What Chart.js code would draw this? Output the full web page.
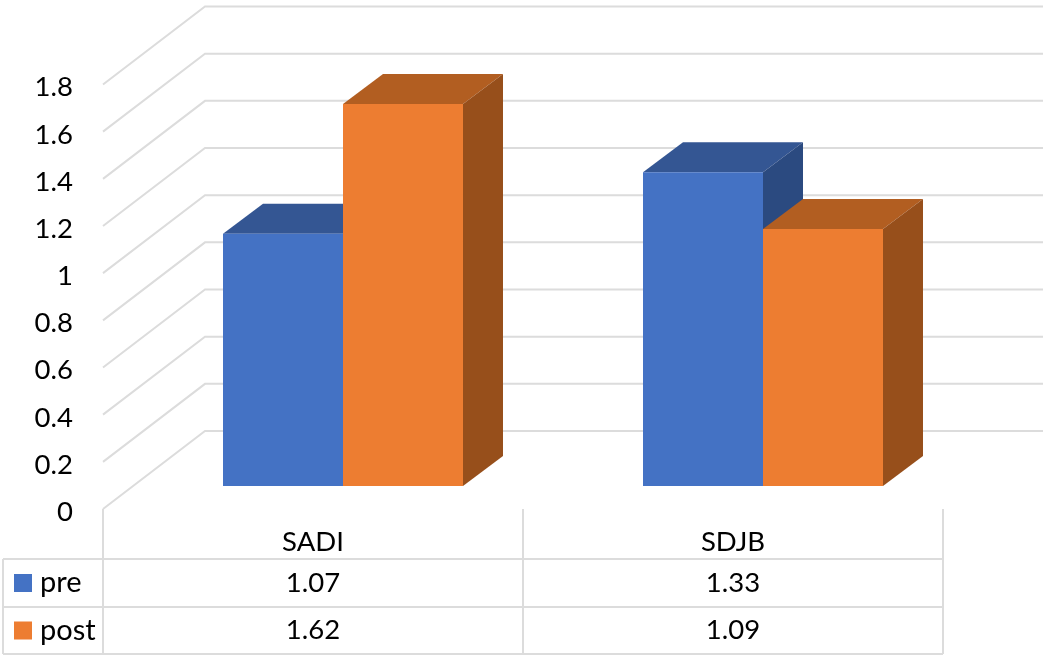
<!DOCTYPE html>
<html>
<head>
<meta charset="utf-8">
<style>
  html, body { margin: 0; padding: 0; background: #fff; overflow: hidden; }
  canvas { display: block; }
</style>
<script src="https://cdn.jsdelivr.net/npm/chart.js@4/dist/chart.umd.js"></script>
</head>
<body>
<canvas id="chart" width="1043" height="655"></canvas>
<script>
const categories = ['SADI', 'SDJB'];
const preValues = [1.07, 1.33];
const postValues = [1.62, 1.09];
const seriesNames = ['pre', 'post'];
const yTicks = [0, 0.2, 0.4, 0.6, 0.8, 1, 1.2, 1.4, 1.6, 1.8];

const FONT = 'Lato, Carlito, sans-serif';
const FONT_SIZE = 27.5;
const KEY_FONT_SIZE = 29;
const TEXT = '#000000';
const LINE = '#dcdcdc';

// Front, top and side shades per series.
const shades = [
  { front: '#4472c4', top: '#345693', side: '#2b4a80' },
  { front: '#ed7d31', top: '#b25e21', side: '#974f1b' }
];

// Oblique projection of the box.
const WALL = { dx: 102, dy: -78 };   // front edge of the side wall to the back wall
const PLANE = { dx: 30, dy: -23 };   // axis plane to the front of the bars
const DEPTH = { dx: 40, dy: -30 };   // front of a bar to its back

function poly(ctx, pts, fill) {
  ctx.beginPath();
  pts.forEach((p, i) => (i ? ctx.lineTo(p[0], p[1]) : ctx.moveTo(p[0], p[1])));
  ctx.closePath();
  ctx.fillStyle = fill;
  ctx.fill();
}

// Side wall and back wall gridlines.
function drawWalls(chart) {
  const { ctx, scales: { x, y } } = chart;
  ctx.save();
  ctx.strokeStyle = LINE;
  ctx.lineWidth = 2;
  yTicks.forEach(v => {
    const py = y.getPixelForValue(v);
    ctx.beginPath();
    ctx.moveTo(x.left, py);
    ctx.lineTo(x.left + WALL.dx, py + WALL.dy);
    ctx.lineTo(chart.width, py + WALL.dy);
    ctx.stroke();
  });
  ctx.restore();
}

// Paints the series first to last so the later one overlaps the earlier one.
// Top and side faces are added around the library's own bar rectangles,
// which are shifted onto the front plane of the bars.
const extrudedBars = {
  id: 'extrudedBars',
  beforeDatasetsDraw(chart) {
    const { ctx } = chart;
    drawWalls(chart);
    chart.data.datasets.forEach((ds, index) => {
      const meta = chart.getDatasetMeta(index);
      const shade = shades[index];
      ctx.save();
      ctx.translate(PLANE.dx, PLANE.dy);
      meta.data.forEach(bar => {
        const p = bar.getProps(['x', 'y', 'base', 'width'], true);
        const l = p.x - p.width / 2, r = p.x + p.width / 2;
        const t = p.y, b = p.base;
        const dx = DEPTH.dx, dy = DEPTH.dy;
        poly(ctx, [[l, t], [l + dx, t + dy], [r + dx, t + dy], [r, t]], shade.top);
        poly(ctx, [[r, t], [r + dx, t + dy], [r + dx, b + dy], [r, b]], shade.side);
      });
      meta.controller.draw();
      ctx.restore();
    });
    return false;
  }
};

// Data table under the axis, with the legend keys in its first column.
const dataTable = {
  id: 'dataTable',
  afterDraw(chart) {
    const { ctx, scales: { x, y } } = chart;
    const rows = [preValues, postValues];
    const top = y.bottom;
    const rowLines = [559, 607, 654];
    const headLeft = 3;
    const keyX = 14, keySize = 18, nameX = 40;
    ctx.save();
    ctx.strokeStyle = LINE;
    ctx.lineWidth = 2;
    const edges = [x.left, (x.left + x.right) / 2, x.right];
    edges.forEach(ex => {
      ctx.beginPath();
      ctx.moveTo(ex, top);
      ctx.lineTo(ex, rowLines[2]);
      ctx.stroke();
    });
    rowLines.forEach(ry => {
      ctx.beginPath();
      ctx.moveTo(headLeft, ry);
      ctx.lineTo(x.right, ry);
      ctx.stroke();
    });
    ctx.beginPath();
    ctx.moveTo(headLeft, rowLines[0]);
    ctx.lineTo(headLeft, rowLines[2]);
    ctx.stroke();

    ctx.fillStyle = TEXT;
    ctx.textBaseline = 'middle';
    rows.forEach((vals, r) => {
      const cy = (rowLines[r] + rowLines[r + 1]) / 2;
      ctx.fillStyle = shades[r].front;
      ctx.fillRect(keyX, cy - keySize / 2, keySize, keySize);
      ctx.fillStyle = TEXT;
      ctx.textAlign = 'left';
      ctx.font = KEY_FONT_SIZE + 'px ' + FONT;
      ctx.fillText(seriesNames[r], nameX, cy);
      ctx.textAlign = 'center';
      ctx.font = FONT_SIZE + 'px ' + FONT;
      vals.forEach((v, c) => ctx.fillText(v.toFixed(2), x.getPixelForTick(c), cy));
    });
    ctx.restore();
  }
};

new Chart(document.getElementById('chart'), {
  type: 'bar',
  data: {
    labels: categories,
    datasets: [
      { label: seriesNames[0], data: preValues, backgroundColor: shades[0].front },
      { label: seriesNames[1], data: postValues, backgroundColor: shades[1].front }
    ]
  },
  options: {
    responsive: false,
    animation: false,
    devicePixelRatio: 1,
    layout: { padding: { top: 84.5, right: 100, bottom: 0, left: 0 } },
    categoryPercentage: 0.5714,
    barPercentage: 1,
    clip: false,
    plugins: { legend: { display: false }, tooltip: { enabled: false } },
    scales: {
      x: {
        grid: { display: false, drawTicks: false },
        border: { display: false },
        afterFit(s) { s.height = 146; },
        ticks: { color: TEXT, font: { family: FONT, size: FONT_SIZE }, padding: 17, maxRotation: 0 }
      },
      y: {
        min: 0,
        max: 1.8,
        afterFit(s) { s.width = 103; },
        afterBuildTicks(s) { s.ticks = yTicks.map(value => ({ value })); },
        grid: { display: false, drawTicks: false },
        border: { display: false },
        ticks: {
          color: TEXT,
          font: { family: FONT, size: FONT_SIZE },
          padding: 30,
          labelOffset: 3,
          callback: v => String(v)
        }
      }
    }
  },
  plugins: [extrudedBars, dataTable]
});
</script>
</body>
</html>
